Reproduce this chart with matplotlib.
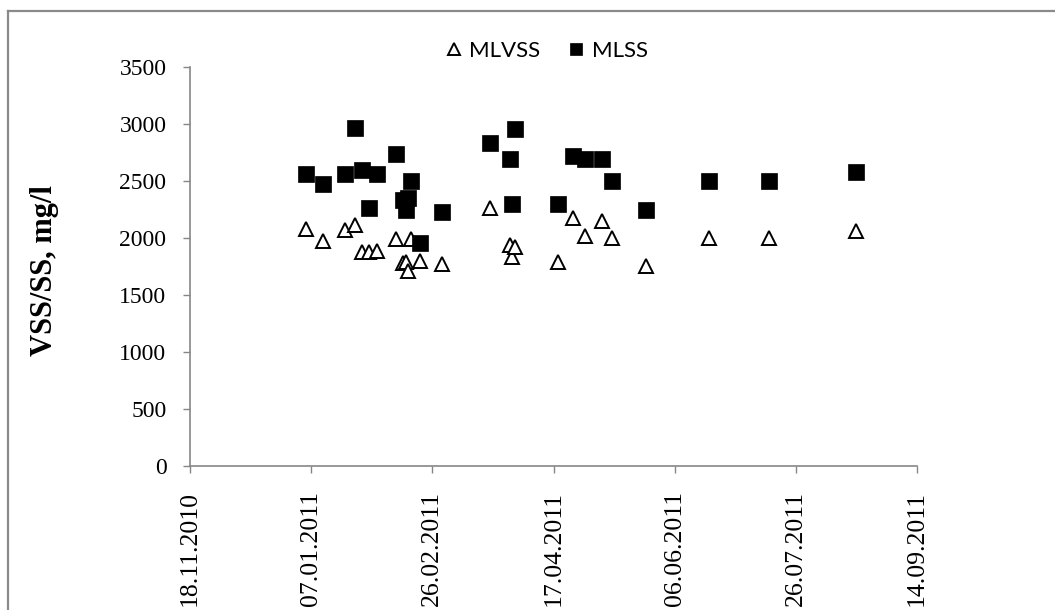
import matplotlib
matplotlib.use("Agg")
import matplotlib.pyplot as plt
import matplotlib.dates as mdates
from matplotlib.lines import Line2D
import numpy as np

# Sampling dates (shared by both series)
dates = [
    "2011-01-05", "2011-01-12", "2011-01-21", "2011-01-25", "2011-01-28",
    "2011-01-31", "2011-02-03", "2011-02-11", "2011-02-14", "2011-02-15",
    "2011-02-16", "2011-02-17", "2011-02-21", "2011-03-02", "2011-03-22",
    "2011-03-30", "2011-03-31", "2011-04-01", "2011-04-19", "2011-04-25",
    "2011-04-30", "2011-05-07", "2011-05-11", "2011-05-25", "2011-06-20",
    "2011-07-15", "2011-08-20",
]

# Volatile suspended solids, mg/l
mlvss = [
    2080, 1970, 2070, 2110, 1875,
    1875, 1885, 1995, 1780, 1790,
    1710, 1995, 1800, 1770, 2260,
    1935, 1830, 1925, 1790, 2175,
    2020, 2150, 2000, 1755, 2000,
    2000, 2060,
]

# Total suspended solids, mg/l
mlss = [
    2560, 2475, 2560, 2965, 2600,
    2265, 2560, 2735, 2330, 2245,
    2350, 2500, 1955, 2225, 2835,
    2690, 2300, 2960, 2300, 2720,
    2690, 2695, 2500, 2250, 2500,
    2500, 2580,
]

x_start = "2010-11-18"
x_end = "2011-09-14"
tick_step_days = 50
y_ticks = [0, 500, 1000, 1500, 2000, 2500, 3000, 3500]

W, H = 1055, 610
fig = plt.figure(figsize=(W / 100, H / 100), dpi=100)
ax = fig.add_axes([190 / W, 1 - 466 / H, (917 - 190) / W, (466 - 67) / H])

d = np.array(dates, dtype="datetime64[D]").astype("O")
ax.plot(d, mlvss, linestyle="none", marker="^", markersize=10,
        markerfacecolor="white", markeredgecolor="black",
        markeredgewidth=1.4, label="MLVSS", zorder=3)
ax.plot(d, mlss, linestyle="none", marker="s", markersize=11,
        markerfacecolor="black", markeredgecolor="black",
        markeredgewidth=0.5, label="MLSS", zorder=3)

x0 = np.datetime64(x_start)
x1 = np.datetime64(x_end)
ticks = np.arange(x0, x1 + np.timedelta64(1, "D"), np.timedelta64(tick_step_days, "D"))
ax.set_xlim(mdates.date2num(x0.astype("O")), mdates.date2num(x1.astype("O")))
ax.set_xticks([mdates.date2num(t.astype("O")) for t in ticks])
ax.xaxis.set_major_formatter(mdates.DateFormatter("%d.%m.%Y"))
ax.set_ylim(0, 3500)
ax.set_yticks(y_ticks)

axis_grey = "#868686"
for s in ("top", "right"):
    ax.spines[s].set_visible(False)
for s in ("left", "bottom"):
    ax.spines[s].set_color(axis_grey)
    ax.spines[s].set_linewidth(1.2)

ax.tick_params(axis="both", direction="out", length=5, width=1.0,
               color=axis_grey)
ax.tick_params(axis="y", labelsize=17, pad=12)
ax.tick_params(axis="x", labelsize=18.5, pad=13)
for lab in ax.get_xticklabels() + ax.get_yticklabels():
    lab.set_fontfamily("Liberation Serif")
for lab in ax.get_xticklabels():
    lab.set_rotation(90)

ax.set_ylabel("VSS/SS, mg/l", fontfamily="Liberation Serif",
              fontweight="bold", fontsize=22, va="center")
ax.yaxis.set_label_coords(-0.20, 0.489)

leg = fig.legend(loc="center", bbox_to_anchor=(544 / W, 1 - 51 / H), ncol=2,
                 frameon=False, handletextpad=0.1, columnspacing=1.0,
                 markerscale=0.85, handlelength=1.2,
                 prop={"family": "Lato", "size": 16})

# Outer chart border (runs off the right and bottom edges)
bx, by = 7.5 / W, 1 - 10.5 / H
fig.add_artist(Line2D([bx, bx], [by, 0], transform=fig.transFigure,
                      color="#8a8a8a", linewidth=1.6))
fig.add_artist(Line2D([bx, 1], [by, by], transform=fig.transFigure,
                      color="#8a8a8a", linewidth=1.6))

fig.savefig("out.png", dpi=100)
